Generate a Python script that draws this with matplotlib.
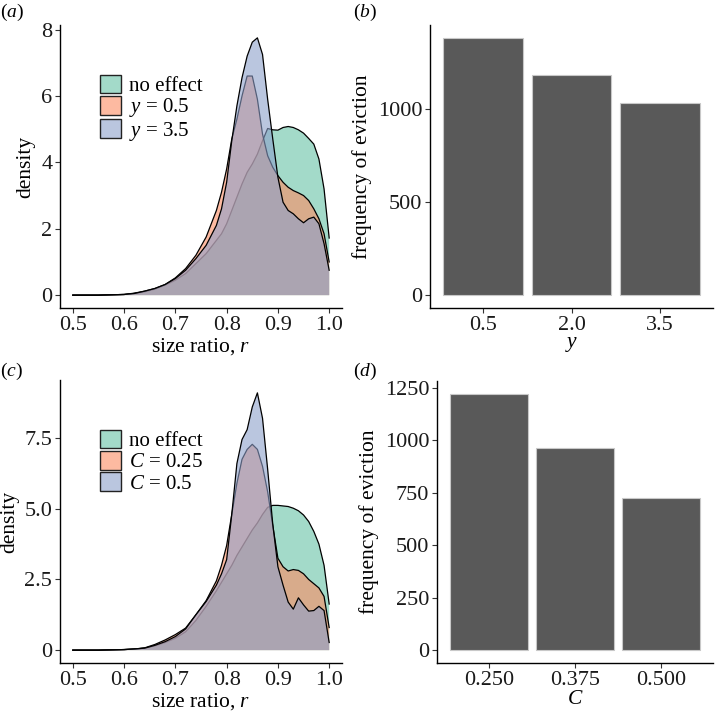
import matplotlib
matplotlib.use("Agg")
import matplotlib.pyplot as plt
from matplotlib.patches import Patch

plt.rcParams['font.family'] = ['Liberation Serif', 'DejaVu Serif']
plt.rcParams['mathtext.fontset'] = 'custom'
plt.rcParams['mathtext.rm'] = 'Liberation Serif'
plt.rcParams['mathtext.it'] = 'Liberation Serif:italic'

# ---------------- data ----------------
r_grid = [0.50, 0.55, 0.60, 0.62, 0.64, 0.66, 0.68, 0.70, 0.72, 0.74, 0.76, 0.78,
          0.79, 0.80, 0.81, 0.82, 0.83, 0.84, 0.85, 0.86, 0.87, 0.88, 0.89, 0.90,
          0.91, 0.92, 0.93, 0.94, 0.95, 0.96, 0.97, 0.98, 0.99, 1.00]

# panel (a)
a_no_effect = [0.00, 0.00, 0.02, 0.05, 0.10, 0.18, 0.30, 0.45, 0.65, 0.95, 1.25, 1.65,
               1.85, 2.15, 2.55, 2.95, 3.35, 3.70, 3.95, 4.25, 4.65, 5.02, 4.98, 4.97,
               5.05, 5.08, 5.05, 4.98, 4.88, 4.72, 4.55, 4.10, 3.20, 1.72]
a_y05 = [0.00, 0.00, 0.02, 0.06, 0.12, 0.20, 0.32, 0.52, 0.80, 1.20, 1.75, 2.55,
         3.10, 3.80, 4.70, 5.30, 6.00, 6.60, 6.60, 5.90, 4.85, 4.20, 3.85, 3.60,
         3.40, 3.25, 3.15, 3.08, 3.00, 2.85, 2.60, 2.30, 1.85, 1.00]
a_y35 = [0.00, 0.00, 0.02, 0.05, 0.12, 0.20, 0.32, 0.50, 0.75, 1.10, 1.50, 2.10,
         2.60, 3.40, 4.65, 5.70, 6.55, 7.20, 7.62, 7.75, 7.25, 5.90, 4.70, 3.55,
         2.80, 2.55, 2.45, 2.30, 2.18, 2.30, 2.35, 2.15, 1.55, 0.75]

# panel (c)
c_no_effect = [0.00, 0.00, 0.02, 0.04, 0.07, 0.15, 0.27, 0.42, 0.65, 1.05, 1.55, 2.10,
               2.40, 2.70, 3.00, 3.35, 3.65, 3.95, 4.25, 4.50, 4.80, 5.05, 5.12, 5.12,
               5.10, 5.08, 5.02, 4.93, 4.78, 4.55, 4.20, 3.75, 3.00, 1.63]
c_C025 = [0.00, 0.00, 0.02, 0.04, 0.08, 0.20, 0.36, 0.55, 0.78, 1.25, 1.75, 2.45,
          3.00, 3.70, 4.80, 5.90, 6.75, 7.10, 7.28, 7.10, 6.50, 5.60, 4.40, 3.25,
          2.95, 2.80, 2.85, 2.82, 2.70, 2.50, 2.35, 2.20, 1.90, 0.80]
c_C05 = [0.00, 0.00, 0.02, 0.04, 0.07, 0.17, 0.30, 0.48, 0.75, 1.25, 1.72, 2.30,
         2.70, 3.20, 4.80, 6.60, 7.45, 7.80, 8.60, 9.10, 8.20, 6.40, 4.45, 2.95,
         2.30, 1.70, 1.45, 1.85, 1.60, 1.38, 1.40, 1.55, 1.40, 0.27]

# panel (b)
b_categories = ["0.5", "2.0", "3.5"]
b_freq = [1382, 1181, 1034]
# panel (d)
d_categories = ["0.250", "0.375", "0.500"]
d_freq = [1220, 961, 726]

legend_a = ["no effect", "$y$ = 0.5", "$y$ = 3.5"]
legend_c = ["no effect", "$C$ = 0.25", "$C$ = 0.5"]
r_ticks = [0.5, 0.6, 0.7, 0.8, 0.9, 1.0]
r_ticklabels = ["0.5", "0.6", "0.7", "0.8", "0.9", "1.0"]

# ---------------- style ----------------
colors = ["#66C2A5", "#FC8D62", "#8DA0CB"]
ALPHA = 0.6
FS_TICK = 16
FS_TITLE = 15.5
FS_LEG = 15
W, H = 720, 713

fig = plt.figure(figsize=(W / 100, H / 100), dpi=100)


def ax_at(left, right, top, bottom):
    return fig.add_axes([left / W, 1 - bottom / H, (right - left) / W, (bottom - top) / H])


def style(ax):
    for s in ("top", "right"):
        ax.spines[s].set_visible(False)
    for s in ("left", "bottom"):
        ax.spines[s].set_linewidth(1.0)
        ax.spines[s].set_color("black")
    ax.tick_params(length=3.5, width=0.8, color="#333333", labelsize=FS_TICK,
                   labelcolor="#1a1a1a", pad=2)


def density_panel(ax, series, labels, yticks, yticklabels):
    ymax = max(max(s) for s in series)
    for i, (s, c) in enumerate(zip(series, colors)):
        ax.fill_between(r_grid, 0, s, facecolor=c, alpha=ALPHA, linewidth=0,
                        zorder=2 * i + 1)
        ax.plot(r_grid, s, color="black", lw=0.9, solid_joinstyle="round",
                zorder=2 * i + 2)
    ax.set_xlim(0.475, 1.025)
    ax.set_ylim(-0.05 * ymax, 1.05 * ymax)
    ax.set_xticks(r_ticks)
    ax.set_xticklabels(r_ticklabels)
    ax.set_yticks(yticks)
    ax.set_yticklabels(yticklabels)
    ax.set_xlabel("size ratio, $r$", fontsize=FS_TITLE, labelpad=1)
    ax.set_ylabel("density", fontsize=FS_TITLE, labelpad=4)
    style(ax)
    handles = [Patch(facecolor=matplotlib.colors.to_rgba(c, ALPHA), edgecolor="#222222",
                     linewidth=1.0) for c in colors]
    leg = ax.legend(handles, labels, loc="upper left", bbox_to_anchor=(0.142, 0.825),
                    frameon=False, fontsize=FS_LEG, handlelength=1.0, handleheight=1.0,
                    labelspacing=0.0, handletextpad=0.4, borderpad=0, borderaxespad=0)
    leg.set_zorder(20)


def bar_panel(ax, cats, vals, yticks, xlabel):
    x = list(range(1, len(cats) + 1))
    ax.bar(x, vals, width=0.9, color="#595959", edgecolor="#c8c8c8", linewidth=0.8)
    ax.set_xlim(0.4, len(cats) + 0.6)
    ax.set_ylim(-0.05 * max(vals), 1.05 * max(vals))
    ax.set_xticks(x)
    ax.set_xticklabels(cats)
    ax.set_yticks(yticks)
    ax.set_xlabel(xlabel, fontsize=FS_TITLE, labelpad=0)
    ax.set_ylabel("frequency of eviction", fontsize=FS_TITLE, labelpad=4)
    style(ax)


ax_a = ax_at(60, 342, 25, 308)
density_panel(ax_a, [a_no_effect, a_y05, a_y35], legend_a, [0, 2, 4, 6, 8],
              ["0", "2", "4", "6", "8"])

ax_b = ax_at(430, 713, 25, 308)
bar_panel(ax_b, b_categories, b_freq, [0, 500, 1000], "$y$")

ax_c = ax_at(60, 342, 380, 663)
density_panel(ax_c, [c_no_effect, c_C025, c_C05], legend_c, [0, 2.5, 5.0, 7.5],
              ["0", "2.5", "5.0", "7.5"])

ax_d = ax_at(437, 713, 381, 663)
bar_panel(ax_d, d_categories, d_freq, [0, 250, 500, 750, 1000, 1250], "$C$")

for lab, (px, py) in zip(["a", "b", "c", "d"], [(0, 12), (353, 12), (0, 371), (353, 371)]):
    fig.text(px / W, 1 - py / H, "($%s$)" % lab, fontsize=14, va="center", ha="left")

fig.savefig("out.png", dpi=100)
